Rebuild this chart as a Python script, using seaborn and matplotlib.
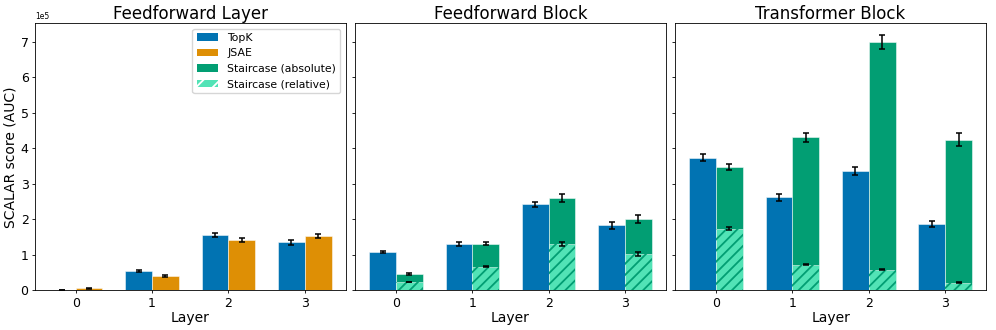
import numpy as np
import pandas as pd
import matplotlib
matplotlib.use("Agg")
import matplotlib.pyplot as plt
import seaborn as sns
from matplotlib.patches import Patch

layers = ["0", "1", "2", "3"]
titles = ["Feedforward Layer", "Feedforward Block", "Transformer Block"]

# values in units of 1e5
ffl_topk = [0.005, 0.55, 1.56, 1.35]
ffl_topk_err = [0.004, 0.03, 0.06, 0.06]
ffl_jsae = [0.06, 0.41, 1.41, 1.53]
ffl_jsae_err = [0.01, 0.02, 0.06, 0.06]

ffb_topk = [1.08, 1.31, 2.42, 1.83]
ffb_topk_err = [0.04, 0.05, 0.08, 0.09]
ffb_abs = [0.47, 1.32, 2.60, 2.01]
ffb_abs_err = [0.03, 0.05, 0.11, 0.10]
ffb_rel = [0.24, 0.67, 1.31, 1.02]
ffb_rel_err = [0.01, 0.02, 0.05, 0.05]

tb_topk = [3.74, 2.62, 3.37, 1.88]
tb_topk_err = [0.09, 0.09, 0.11, 0.08]
tb_abs = [3.48, 4.31, 7.00, 4.25]
tb_abs_err = [0.09, 0.13, 0.19, 0.17]
tb_rel = [1.74, 0.72, 0.58, 0.22]
tb_rel_err = [0.05, 0.01, 0.01, 0.01]

SCALE = 1e5
c_topk = "#0173b2"
c_jsae = "#de8f05"
c_abs = "#029e73"
c_rel = "#52e3b6"
palette = {"TopK": c_topk, "JSAE": c_jsae, "Staircase (absolute)": c_abs,
           "Staircase (relative)": c_rel}

plt.rcParams["hatch.linewidth"] = 1.3

fig, axes = plt.subplots(1, 3, figsize=(9.96, 3.3), dpi=100, sharey=True)
fig.subplots_adjust(left=0.035, right=0.99, top=0.93, bottom=0.12, wspace=0.03)

edge_kw = dict(edgecolor=(1, 1, 1, 0.5), linewidth=0.7)
err_kw = dict(fmt="none", ecolor="black", elinewidth=1.1, capsize=2.2, capthick=1.1, zorder=5)
bar_kw = dict(width=0.7, errorbar=None, legend=False, saturation=1, dodge=True)


def bars(ax, second_name, topk, topk_err, second, second_err):
    df = pd.DataFrame({
        "Layer": layers * 2,
        "value": np.array(list(topk) + list(second)) * SCALE,
        "method": ["TopK"] * 4 + [second_name] * 4,
    })
    sns.barplot(data=df, x="Layer", y="value", hue="method",
                hue_order=["TopK", second_name], palette=palette,
                ax=ax, **bar_kw, **edge_kw)
    for cont, err in zip(ax.containers[-2:], [topk_err, second_err]):
        xs = [p.get_x() + p.get_width() / 2 for p in cont.patches]
        hs = [p.get_height() for p in cont.patches]
        ax.errorbar(xs, hs, yerr=np.array(err) * SCALE, **err_kw)


def rel_bars(ax, rel, rel_err):
    df = pd.DataFrame({"Layer": layers, "value": np.array(rel) * SCALE,
                       "method": ["Staircase (relative)"] * 4})
    order = ["TopK", "Staircase (relative)"]
    sns.barplot(data=df, x="Layer", y="value", hue="method", hue_order=order,
                palette=palette, ax=ax, **bar_kw, **edge_kw)
    n_before = len(ax.patches)
    sns.barplot(data=df, x="Layer", y="value", hue="method", hue_order=order,
                palette=palette, ax=ax, **bar_kw)
    for p in ax.patches[n_before:]:
        p.set_facecolor("none")
        p.set_edgecolor(c_abs)
        p.set_linewidth(0)
        p.set_hatch("///")
        p.set_zorder(3)
    cont = ax.containers[-1]
    xs = [p.get_x() + p.get_width() / 2 for p in cont.patches]
    hs = [p.get_height() for p in cont.patches]
    ax.errorbar(xs, hs, yerr=np.array(rel_err) * SCALE, **err_kw)


bars(axes[0], "JSAE", ffl_topk, ffl_topk_err, ffl_jsae, ffl_jsae_err)
bars(axes[1], "Staircase (absolute)", ffb_topk, ffb_topk_err, ffb_abs, ffb_abs_err)
rel_bars(axes[1], ffb_rel, ffb_rel_err)
bars(axes[2], "Staircase (absolute)", tb_topk, tb_topk_err, tb_abs, tb_abs_err)
rel_bars(axes[2], tb_rel, tb_rel_err)

for ax, t in zip(axes, titles):
    ax.set_title(t, fontsize=12, pad=3)
    ax.set_xlabel("Layer", fontsize=10, labelpad=1)
    ax.set_xlim(-0.535, 3.535)
    ax.tick_params(labelsize=9, length=2.5, width=0.6, pad=2)
    for s in ax.spines.values():
        s.set_linewidth(0.6)
axes[0].set_ylim(0, 7.53 * SCALE)
axes[0].set_yticks(np.arange(0, 8) * SCALE)
axes[0].ticklabel_format(axis="y", style="sci", scilimits=(5, 5))
axes[0].yaxis.get_offset_text().set_fontsize(5.5)
axes[0].set_ylabel("SCALAR score (AUC)", fontsize=10, labelpad=2)
for ax in axes[1:]:
    ax.set_ylabel("")

handles = [Patch(facecolor=c_topk, label="TopK"),
           Patch(facecolor=c_jsae, label="JSAE"),
           Patch(facecolor=c_abs, label="Staircase (absolute)"),
           Patch(facecolor=c_rel, edgecolor="white", hatch="//", linewidth=0,
                 label="Staircase (relative)")]
axes[0].legend(handles=handles, loc="upper right", fontsize=7.8,
               framealpha=0.8, borderpad=0.4, handlelength=2.0)

fig.savefig("out.png", dpi=100)
